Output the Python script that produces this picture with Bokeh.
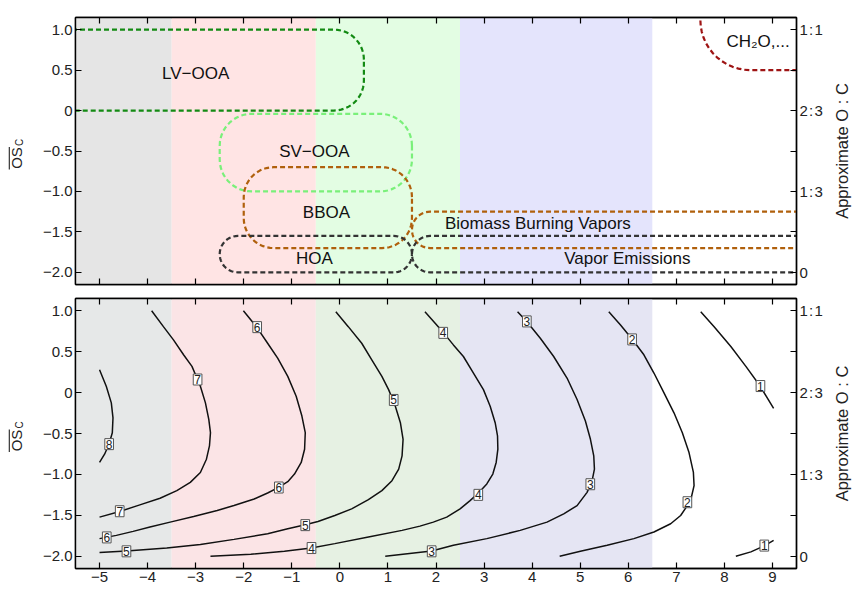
import numpy as np
from bokeh.plotting import figure
from bokeh.layouts import column, row
from bokeh.models import Range1d, LinearAxis, FixedTicker, BoxAnnotation, ColumnDataSource
from bokeh.core.properties import value
from bokeh.embed import file_html
from bokeh.resources import INLINE

FONT = "Liberation Sans"

# ---------------- data ----------------
X_RANGE = (-5.5, 9.5)
Y_RANGE = (-2.15, 1.15)

x_ticks = [-5, -4, -3, -2, -1, 0, 1, 2, 3, 4, 5, 6, 7, 8, 9]
x_tick_labels = ["\u22125", "\u22124", "\u22123", "\u22122", "\u22121", "0", "1", "2", "3", "4", "5", "6", "7", "8", "9"]
y_ticks = [1.0, 0.5, 0.0, -0.5, -1.0, -1.5, -2.0]
y_tick_labels = ["1.0", "0.5", "0", "\u22120.5", "\u22121.0", "\u22121.5", "\u22122.0"]
oc_ticks = [1.0, 0.0, -1.0, -2.0]
oc_tick_labels = ["1\u200a:\u200a1", "2\u200a:\u200a3", "1\u200a:\u200a3", "0"]
oc_minor = [0.5, -0.5, -1.5]
y_label_main = "OS"
y_label_sub = "C"
right_label = "Approximate O : C"

# volatility bands
band_left = [-5.5, -3.5, -0.5, 2.5]
band_right = [-3.5, -0.5, 2.5, 6.5]
band_colors_top = ["#e5e5e5", "#ffe4e4", "#e3fde3", "#e4e4fc"]
band_colors_bottom = ["#e6e8e8", "#fbe4e6", "#e6f1e3", "#e5e5f3"]

# factor regions (top panel)
region_names = ["LV\u2212OOA", "SV\u2212OOA", "BBOA", "HOA", "Biomass Burning Vapors", "Vapor Emissions", "CH\u2082O,..."]
region_x0 = [-7.0, -2.5, -2.0, -2.5, 1.5, 1.5, 7.5]
region_x1 = [0.5, 1.5, 1.5, 1.5, 12.0, 12.0, 12.0]
region_y0 = [0.0, -1.0, -1.7, -2.0, -1.7, -2.0, 0.5]
region_y1 = [1.0, -0.04, -0.7, -1.55, -1.25, -1.55, 3.0]
region_colors = ["#138a13", "#7af07a", "#b0600c", "#333333", "#b0600c", "#333333", "#9e1414"]
region_label_x = [-3.0, -0.53, -0.28, -0.53, 4.12, 5.98, 8.70]
region_label_y = [0.46, -0.51, -1.26, -1.83, -1.40, -1.83, 0.85]

# contour lines (bottom panel), labelled by carbon number
c8_x = [-5.0, -4.86, -4.755, -4.72, -4.734, -4.804, -4.895, -5.0]
c8_y = [0.279, 0.077, -0.126, -0.308, -0.49, -0.632, -0.753, -0.854]
c7_x = [-3.916, -3.671, -3.462, -3.252, -3.077, -2.902, -2.797, -2.727, -2.692, -2.713, -2.776, -2.902, -3.112,
        -3.392, -3.741, -4.161, -4.58, -5.0]
c7_y = [1.0, 0.806, 0.644, 0.462, 0.32, 0.077, -0.126, -0.328, -0.49, -0.652, -0.814, -0.976, -1.097,
        -1.198, -1.291, -1.372, -1.453, -1.522]
c6_x = [-2.007, -1.727, -1.503, -1.294, -1.084, -0.909, -0.79, -0.72, -0.734, -0.804, -0.944, -1.084, -1.273,
        -1.503, -1.783, -2.203, -2.552, -3.042, -3.531, -3.951, -4.301, -4.65, -5.0]
c6_y = [1.0, 0.798, 0.603, 0.421, 0.198, -0.045, -0.287, -0.49, -0.692, -0.854, -0.996, -1.089, -1.158,
        -1.227, -1.3, -1.381, -1.441, -1.514, -1.583, -1.644, -1.696, -1.745, -1.785]
c5_x = [-0.084, 0.175, 0.455, 0.664, 0.874, 1.014, 1.154, 1.259, 1.315, 1.294, 1.224, 1.084, 0.874, 0.594,
        0.245, -0.105, -0.455, -0.72, -1.084, -1.503, -2.203, -2.902, -3.601, -4.441, -5.0]
c5_y = [0.988, 0.806, 0.603, 0.401, 0.198, 0.036, -0.166, -0.368, -0.571, -0.773, -0.935, -1.077, -1.198, -1.308,
        -1.421, -1.502, -1.575, -1.615, -1.664, -1.725, -1.794, -1.858, -1.899, -1.935, -1.955]
c4_x = [1.77, 2.153, 2.362, 2.57, 2.779, 2.987, 3.127, 3.231, 3.28, 3.287, 3.252, 3.182, 3.057, 2.883, 2.709,
        2.501, 2.223, 1.944, 1.666, 1.294, 0.594, -0.105, -0.594, -1.154, -1.853, -2.692]
c4_y = [0.988, 0.733, 0.583, 0.441, 0.239, 0.036, -0.166, -0.368, -0.53, -0.692, -0.854, -0.996, -1.117, -1.227,
        -1.32, -1.421, -1.522, -1.583, -1.632, -1.684, -1.765, -1.846, -1.899, -1.939, -1.976, -2.0]
c3_x = [3.697, 3.892, 4.17, 4.448, 4.726, 4.935, 5.108, 5.213, 5.282, 5.296, 5.248, 5.143, 4.935, 4.657, 4.309,
        3.752, 3.057, 2.362, 1.91, 0.944]
c3_y = [0.988, 0.866, 0.664, 0.441, 0.178, -0.085, -0.348, -0.571, -0.773, -0.935, -1.077, -1.219, -1.381,
        -1.482, -1.583, -1.684, -1.785, -1.866, -1.935, -2.0]
c2_x = [5.595, 5.839, 6.082, 6.325, 6.534, 6.743, 6.951, 7.125, 7.264, 7.355, 7.369, 7.313, 7.229, 7.09, 6.882,
        6.534, 6.117, 5.561, 5.004, 4.573]
c2_y = [0.988, 0.826, 0.652, 0.462, 0.239, -0.004, -0.247, -0.49, -0.733, -0.976, -1.138, -1.279, -1.381,
        -1.502, -1.603, -1.704, -1.785, -1.866, -1.939, -2.0]
c1a_x = [7.508, 7.786, 8.134, 8.447, 8.746, 9.024]
c1a_y = [0.988, 0.806, 0.563, 0.32, 0.077, -0.194]
c1b_x = [8.238, 8.551, 8.829, 9.024]
c1b_y = [-2.0, -1.947, -1.874, -1.806]

contour_label_x = [-4.80, -2.96, -4.58, -1.72, -1.27, -4.85, 1.12, -0.72, -4.44,
                   2.15, 2.88, -0.59, 3.89, 5.21, 1.91, 6.08, 7.23, 8.75, 8.83]
contour_label_y = [-0.63, 0.16, -1.45, 0.80, -1.16, -1.77, -0.09, -1.62, -1.94,
                   0.73, -1.25, -1.90, 0.87, -1.12, -1.94, 0.65, -1.34, 0.08, -1.87]
contour_label_text = ["8", "7", "7", "6", "6", "6", "5", "5", "5",
                      "4", "4", "4", "3", "3", "3", "2", "2", "1", "1"]

# ---------------- layout constants ----------------
LW, RW = 25, 24            # side label strips
W = 854 - LW - RW          # main figure width
BORDER_L, BORDER_R = 50, 34
FRAME_W = W - BORDER_L - BORDER_R
TOP_H, TOP_BT, TOP_BB = 291, 17, 7
BOT_H, BOT_BT, BOT_BB = 299, 7, 22


def rounded_rect(x0, x1, y0, y1, r_px, px_x, px_y, n=14):
    r = min(r_px, (x1 - x0) * px_x / 2, (y1 - y0) * px_y / 2)
    rx, ry = r / px_x, r / px_y
    xs, ys = [], []
    for cx, cy, a0 in [(x1 - rx, y1 - ry, 0), (x0 + rx, y1 - ry, 90),
                       (x0 + rx, y0 + ry, 180), (x1 - rx, y0 + ry, 270)]:
        t = np.radians(np.linspace(a0, a0 + 90, n))
        xs += list(cx + rx * np.cos(t))
        ys += list(cy + ry * np.sin(t))
    xs.append(xs[0])
    ys.append(ys[0])
    return xs, ys


def style_axis(ax, ticks, labels=None):
    ax.axis_line_color = "black"
    ax.axis_line_width = 1.4
    ax.major_tick_in = 6
    ax.major_tick_out = 0
    ax.minor_tick_in = 6
    ax.minor_tick_out = 0
    ax.major_tick_line_color = "black"
    ax.minor_tick_line_color = "black"
    ax.major_tick_line_width = 1.2
    ax.minor_tick_line_width = 1.2
    ax.major_label_text_font = FONT
    ax.major_label_text_color = "#222222"
    if labels is not None:
        ax.major_label_overrides = {float(t): s for t, s in zip(ticks, labels)}
        ax.major_label_text_font_size = "15px"
        ax.major_label_standoff = 3
    else:
        ax.major_label_overrides = {float(t): "" for t in ticks}
        ax.major_label_text_font_size = "4px"
        ax.major_label_standoff = 0


def strip(width, height, bt, bb):
    s = figure(width=width, height=height, x_range=Range1d(0, width), y_range=Range1d(*Y_RANGE),
               output_backend="svg", toolbar_location=None, x_axis_type=None, y_axis_type=None,
               min_border_left=0, min_border_right=0, min_border_top=bt, min_border_bottom=bb)
    s.grid.visible = False
    s.outline_line_color = None
    s.background_fill_color = "white"
    s.border_fill_color = "white"
    return s


def left_strip(height, bt, bb):
    s = strip(LW, height, bt, bb)
    mid = (Y_RANGE[0] + Y_RANGE[1]) / 2
    py = (height - bt - bb) / (Y_RANGE[1] - Y_RANGE[0])
    s.text(x=[15.5], y=[mid - 7 / py], text=[y_label_main], angle=np.pi / 2,
           text_font=value(FONT), text_font_size=value("15px"), text_color="#222222",
           text_align="center", text_baseline="middle")
    s.text(x=[18.5], y=[mid + 8.5 / py], text=[y_label_sub], angle=np.pi / 2,
           text_font=value(FONT), text_font_size=value("10px"), text_color="#222222",
           text_align="center", text_baseline="middle")
    s.segment(x0=[8.8], x1=[8.8], y0=[mid - 18.5 / py], y1=[mid + 4 / py],
              line_color="#222222", line_width=1.1)
    return s


def right_strip(height, bt, bb):
    s = strip(RW, height, bt, bb)
    mid = (Y_RANGE[0] + Y_RANGE[1]) / 2
    s.text(x=[11.5], y=[mid], text=[right_label], angle=np.pi / 2,
           text_font=value(FONT), text_font_size=value("16.5px"), text_color="#222222",
           text_align="center", text_baseline="middle")
    return s


def make_fig(height, bt, bb, show_x_labels, band_colors):
    p = figure(width=W, height=height, x_range=Range1d(*X_RANGE), y_range=Range1d(*Y_RANGE),
               output_backend="svg", toolbar_location=None,
               min_border_left=BORDER_L, min_border_right=BORDER_R,
               min_border_top=bt, min_border_bottom=bb)
    p.grid.visible = False
    p.outline_line_color = "black"
    p.outline_line_width = 1.4
    p.background_fill_color = "white"
    p.border_fill_color = "white"

    xa = p.xaxis[0]
    xa.ticker = FixedTicker(ticks=x_ticks, minor_ticks=[])
    style_axis(xa, x_ticks, x_tick_labels if show_x_labels else None)

    top_ax = LinearAxis(ticker=FixedTicker(ticks=x_ticks, minor_ticks=[]))
    style_axis(top_ax, x_ticks, None)
    p.add_layout(top_ax, "above")

    ya = p.yaxis[0]
    ya.ticker = FixedTicker(ticks=y_ticks, minor_ticks=[])
    style_axis(ya, y_ticks, y_tick_labels)

    ra = LinearAxis(ticker=FixedTicker(ticks=oc_ticks, minor_ticks=oc_minor))
    style_axis(ra, oc_ticks, oc_tick_labels)
    p.add_layout(ra, "right")

    for l, r, c in zip(band_left, band_right, band_colors):
        p.add_layout(BoxAnnotation(left=l, right=r, fill_color=c, fill_alpha=1.0,
                                   line_alpha=0, level="underlay"))
    return p


# ---------------- top panel ----------------
top = make_fig(TOP_H, TOP_BT, TOP_BB, False, band_colors_top)
px_x = FRAME_W / (X_RANGE[1] - X_RANGE[0])
px_y_top = (TOP_H - TOP_BT - TOP_BB) / (Y_RANGE[1] - Y_RANGE[0])
radii = [30, 32, 30, 30, 30, 30, 50]
for x0, x1, y0, y1, col, rr in zip(region_x0, region_x1, region_y0, region_y1, region_colors, radii):
    xs, ys = rounded_rect(x0, x1, y0, y1, rr, px_x, px_y_top)
    top.line(xs, ys, line_color=col, line_width=2.2, line_dash="5 3")

top.text(x=region_label_x, y=region_label_y, text=region_names,
         text_font=value(FONT), text_font_size=value("17px"), text_color="#111111",
         text_align="center", text_baseline="middle")

# ---------------- bottom panel ----------------
bot = make_fig(BOT_H, BOT_BT, BOT_BB, True, band_colors_bottom)
for cx, cy in [(c8_x, c8_y), (c7_x, c7_y), (c6_x, c6_y), (c5_x, c5_y), (c4_x, c4_y),
               (c3_x, c3_y), (c2_x, c2_y), (c1a_x, c1a_y), (c1b_x, c1b_y)]:
    bot.line(cx, cy, line_color="#111111", line_width=1.5)

lab_src = ColumnDataSource(dict(x=contour_label_x, y=contour_label_y, text=contour_label_text))
bot.text(x="x", y="y", text="text", source=lab_src,
         text_font=value(FONT), text_font_size=value("12px"), text_color="#222222",
         text_align="center", text_baseline="middle",
         background_fill_color="white", border_line_color="#555555", border_line_width=1,
         padding=1)

layout = column(
    row(left_strip(TOP_H, TOP_BT, TOP_BB), top, right_strip(TOP_H, TOP_BT, TOP_BB), spacing=0),
    row(left_strip(BOT_H, BOT_BT, BOT_BB), bot, right_strip(BOT_H, BOT_BT, BOT_BB), spacing=0),
    spacing=0,
)
open("out.html", "w").write(file_html(layout, INLINE))
